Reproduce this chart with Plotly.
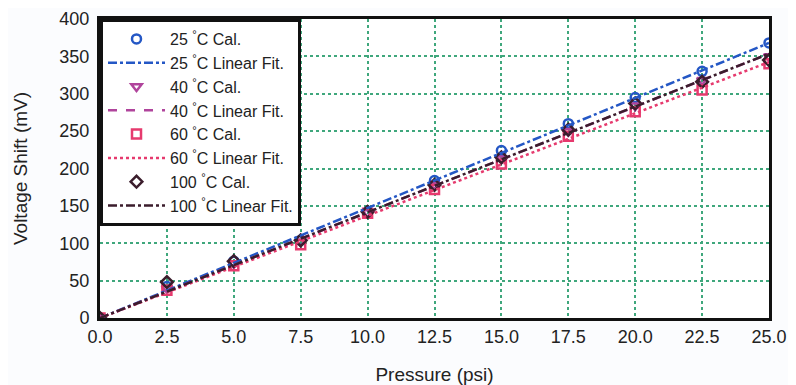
import numpy as np
import plotly.graph_objects as go

pressure = [0.0, 2.5, 5.0, 7.5, 10.0, 12.5, 15.0, 17.5, 20.0, 22.5, 25.0]
v25 = [0, 42, 76, 104, 142, 184, 224, 260, 295, 330, 368]
v40 = [0, 40, 73, 102, 141, 178, 213, 250, 284, 318, 350]
v60 = [0, 37, 70, 98, 140, 172, 206, 243, 276, 305, 340]
v100 = [0, 48, 76, 104, 142, 178, 215, 252, 287, 316, 345]
x_ticks = [0.0, 2.5, 5.0, 7.5, 10.0, 12.5, 15.0, 17.5, 20.0, 22.5, 25.0]
y_ticks = [0, 50, 100, 150, 200, 250, 300, 350, 400]

series = [
    ("25", v25, "#2457c5", "circle-open", "dashdot"),
    ("40", v40, "#b0449c", "triangle-down-open", "dash"),
    ("60", v60, "#e63a6e", "square-open", "dot"),
    ("100", v100, "#3b1d2c", "diamond-open", "dashdot"),
]

fig = go.Figure()
x = np.array(pressure)
for t, vals, col, sym, dash in series:
    fig.add_trace(go.Scatter(
        x=pressure, y=vals, mode="markers", name=f"{t} <sup>°</sup>C Cal.",
        marker=dict(symbol=sym, size=9, color=col, line=dict(width=2.5, color=col)),
    ))
for t, vals, col, sym, dash in series:
    y = np.array(vals, dtype=float)
    k = float((x * y).sum() / (x * x).sum())  # linear fit through origin
    fig.add_trace(go.Scatter(
        x=pressure, y=(k * x).tolist(), mode="lines", name=f"{t} <sup>°</sup>C Linear Fit.",
        line=dict(color=col, width=2.5, dash=dash),
    ))

order = [0, 4, 1, 5, 2, 6, 3, 7]
for rank, i in enumerate(order):
    fig.data[i].legendrank = rank + 1

fig.update_layout(
    width=788, height=377,
    margin=dict(l=92, r=27, t=11, b=67),
    paper_bgcolor="#fbfcfe", plot_bgcolor="white",
    font=dict(family="Liberation Sans, Arial", size=18, color="#222"),
    showlegend=True,
    legend=dict(x=0, y=1, xanchor="left", yanchor="top", bgcolor="white",
                bordercolor="#111", borderwidth=3, font=dict(size=16),
                tracegroupgap=0, itemwidth=57),
    xaxis=dict(range=[0, 25], tickvals=x_ticks, ticktext=[f"{v:.1f}" for v in x_ticks],
               title=dict(text="Pressure (psi)", font=dict(size=19), standoff=25),
               tickfont=dict(size=18),
               showgrid=True, gridcolor="#3fa77c", griddash="dot", gridwidth=2,
               showline=True, linecolor="#111", linewidth=3, mirror=True,
               ticks="", zeroline=False, automargin=False),
    yaxis=dict(range=[0, 400], tickvals=y_ticks,
               title=dict(text="Voltage Shift (mV)", font=dict(size=19), standoff=27),
               tickfont=dict(size=18), ticklabelstandoff=4,
               showgrid=True, gridcolor="#3fa77c", griddash="dot", gridwidth=2,
               showline=True, linecolor="#111", linewidth=3, mirror=True,
               ticks="", zeroline=False, automargin=False),
)

fig.write_html("out.html")
